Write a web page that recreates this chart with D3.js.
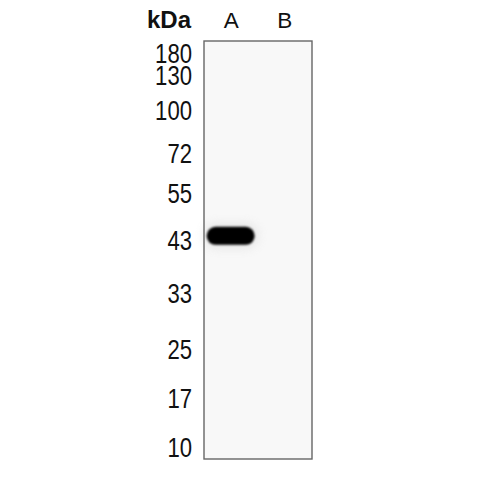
<!DOCTYPE html>
<html>
<head>
<meta charset="utf-8">
<style>
  body { margin: 0; background: #fff; }
  svg { display: block; }
  text { font-family: "Liberation Sans", Arial, sans-serif; fill: #111; }
</style>
</head>
<body>
<svg id="chart" width="500" height="500"></svg>
<script src="https://cdn.jsdelivr.net/npm/d3@7"></script>
<script>
// marker ladder (kDa) and their relative migration (0 = top marker, 1 = bottom marker)
const markers = [180, 130, 100, 72, 55, 43, 33, 25, 17, 10];
const migration = [0, 0.056, 0.145, 0.254, 0.355, 0.475, 0.609, 0.751, 0.876, 1];

// lanes and detected bands
const lanes = ["A", "B"];
const bandLane = ["A"];
const bandMigration = [0.464];
const bandIntensity = [1];

const svg = d3.select("#chart");

// membrane frame
const box = { x0: 204, x1: 312, y0: 41, y1: 459 };

const y = d3.scaleLinear().domain([0, 1]).range([53, 447]);
const x = d3.scaleBand().domain(lanes).range([box.x0, box.x1]).paddingInner(0.05).paddingOuter(0.03);

// blur filter for the band
const defs = svg.append("defs");
defs.append("filter").attr("id", "blur")
  .attr("x", "-30%").attr("y", "-60%").attr("width", "160%").attr("height", "220%")
  .append("feGaussianBlur").attr("stdDeviation", 1.3);
defs.append("filter").attr("id", "haze")
  .attr("x", "-50%").attr("y", "-100%").attr("width", "200%").attr("height", "300%")
  .append("feGaussianBlur").attr("stdDeviation", 5);

// membrane background
svg.append("rect")
  .attr("x", box.x0).attr("y", box.y0)
  .attr("width", box.x1 - box.x0).attr("height", box.y1 - box.y0)
  .attr("fill", "#f8f8f8");

// bands
const bands = bandLane.map((l, i) => ({ lane: l, m: bandMigration[i], v: bandIntensity[i] }));
const bw = x.bandwidth();

svg.append("g").selectAll("rect")
  .data(bands)
  .join("rect")
  .attr("x", d => x(d.lane) - 2)
  .attr("y", d => y(d.m) - 13)
  .attr("width", bw + 4)
  .attr("height", 26)
  .attr("rx", 12)
  .attr("fill", "#ccc")
  .attr("opacity", 0.35)
  .attr("filter", "url(#haze)");

svg.append("g").selectAll("rect")
  .data(bands)
  .join("rect")
  .attr("x", d => x(d.lane) + 1)
  .attr("y", d => y(d.m) - 9)
  .attr("width", bw - 3)
  .attr("height", 18)
  .attr("rx", 9)
  .attr("fill", "#000")
  .attr("opacity", d => d.v)
  .attr("filter", "url(#blur)");

// frame
svg.append("rect")
  .attr("x", box.x0).attr("y", box.y0)
  .attr("width", box.x1 - box.x0).attr("height", box.y1 - box.y0)
  .attr("fill", "none")
  .attr("stroke", "#666")
  .attr("stroke-width", 1.4);

// marker labels (numbers look vertically stretched in the original)
svg.append("g").selectAll("text")
  .data(markers)
  .join("text")
  .attr("transform", (d, i) => `translate(192,${y(migration[i])}) scale(0.79,1)`)
  .attr("text-anchor", "end")
  .attr("dy", "0.355em")
  .attr("font-size", 28)
  .text(d => d);

// header
svg.append("text")
  .attr("x", 191).attr("y", 28)
  .attr("text-anchor", "end")
  .attr("font-size", 24)
  .attr("font-weight", "bold")
  .text("kDa");

svg.append("g").selectAll("text")
  .data(lanes)
  .join("text")
  .attr("x", d => x(d) + bw / 2)
  .attr("y", 28)
  .attr("text-anchor", "middle")
  .attr("font-size", 22.5)
  .text(d => d);
</script>
</body>
</html>
